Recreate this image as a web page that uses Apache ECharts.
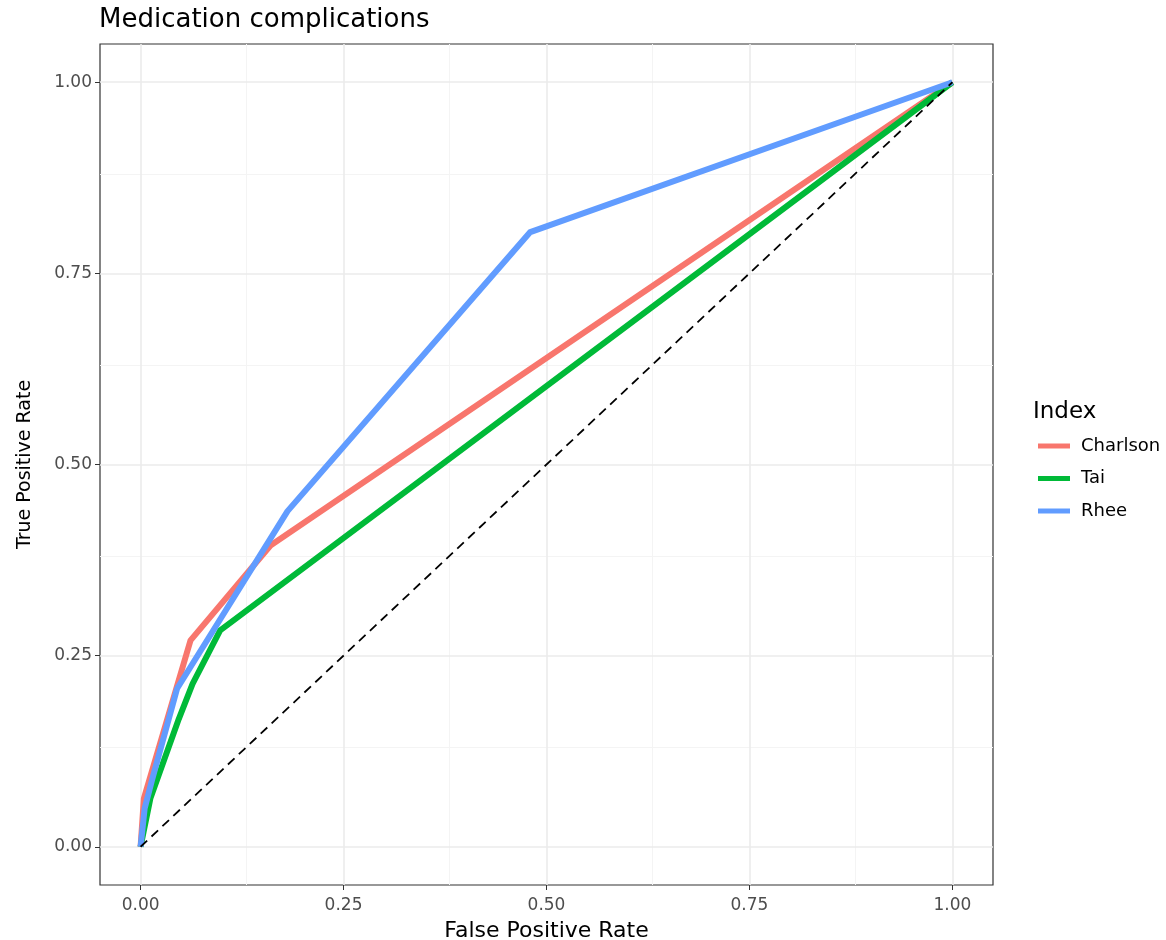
<!DOCTYPE html>
<html>
<head>
<meta charset="utf-8">
<script src="https://cdn.jsdelivr.net/npm/echarts@6/dist/echarts.min.js"></script>
<style>
  html, body { margin: 0; padding: 0; background: #fff; }
  #chart { width: 1166px; height: 940px; }
</style>
</head>
<body>
<div id="chart"></div>
<script>
// ROC points: [false positive rate, true positive rate]
const charlson = [[0, 0], [0.004, 0.063], [0.0615, 0.27], [0.16, 0.394], [1, 1]];
const tai = [[0, 0], [0.012, 0.063], [0.047, 0.167], [0.064, 0.213], [0.098, 0.283], [1, 1]];
const rhee = [[0, 0], [0.005, 0.05], [0.014, 0.087], [0.045, 0.207], [0.181, 0.439], [0.48, 0.804], [1, 1]];
const diagonal = [[0, 0], [1, 1]];

const seriesNames = ['Charlson', 'Tai', 'Rhee'];
const majorTicks = [0, 0.25, 0.5, 0.75, 1];
const minorTicks = [0.125, 0.375, 0.625, 0.875];

const chart = echarts.init(document.getElementById('chart'));
const font = 'DejaVu Sans, Liberation Sans, sans-serif';

// background grid, drawn as mark lines under the curves
const gridLines = [];
minorTicks.forEach(v => {
  gridLines.push({ xAxis: v, lineStyle: { color: '#f4f4f4', width: 1, type: 'solid' } });
  gridLines.push({ yAxis: v, lineStyle: { color: '#f4f4f4', width: 1, type: 'solid' } });
});
majorTicks.forEach(v => {
  gridLines.push({ xAxis: v, lineStyle: { color: '#ebebeb', width: 1.6, type: 'solid' } });
  gridLines.push({ yAxis: v, lineStyle: { color: '#ebebeb', width: 1.6, type: 'solid' } });
});

const axisCommon = {
  type: 'value',
  min: -0.05,
  max: 1.05,
  splitLine: { show: false },
  axisLine: { show: false, onZero: false },
  axisTick: {
    show: true,
    customValues: majorTicks,
    length: 5,
    lineStyle: { color: '#333', width: 1 }
  },
  axisLabel: {
    customValues: majorTicks,
    formatter: v => v.toFixed(2),
    color: '#4d4d4d',
    fontSize: 17,
    fontFamily: font
  },
  nameLocation: 'middle',
  nameTextStyle: { color: '#000', fontSize: 22, fontFamily: font }
};

const option = {
  animation: false,
  backgroundColor: '#fff',
  title: {
    text: 'Medication complications',
    left: 94,
    top: 2,
    textStyle: { color: '#000', fontSize: 26, fontWeight: 'normal', fontFamily: font }
  },
  graphic: [{
    type: 'text',
    left: 1033,
    top: 401,
    style: { text: 'Index', fill: '#000', fontSize: 23, fontFamily: font }
  }],
  legend: {
    orient: 'vertical',
    left: 1033,
    top: 432,
    itemWidth: 32,
    itemHeight: 5,
    itemGap: 14.5,
    icon: 'rect',
    data: seriesNames,
    textStyle: { color: '#000', fontSize: 18, lineHeight: 18, fontFamily: font, padding: [0, 0, 0, 6] }
  },
  grid: {
    left: 100,
    right: 173,
    top: 44,
    bottom: 55,
    outerBoundsMode: 'none',
    containLabel: false,
    show: true,
    borderColor: '#333',
    borderWidth: 1.2,
    backgroundColor: 'transparent'
  },
  xAxis: Object.assign({}, axisCommon, {
    name: 'False Positive Rate',
    nameGap: 35,
    axisLabel: Object.assign({}, axisCommon.axisLabel, { margin: 12 })
  }),
  yAxis: Object.assign({}, axisCommon, {
    name: 'True Positive Rate',
    nameGap: 65,
    nameTextStyle: { color: '#000', fontSize: 19, fontFamily: font },
    axisLabel: Object.assign({}, axisCommon.axisLabel, { margin: 8 })
  }),
  series: [
    {
      name: 'grid',
      type: 'line',
      data: [],
      silent: true,
      z: 0,
      markLine: {
        silent: true,
        z: 0,
        symbol: 'none',
        label: { show: false },
        animation: false,
        data: gridLines
      }
    },
    {
      name: 'Charlson',
      type: 'line',
      data: charlson,
      showSymbol: false,
      z: 3,
      color: '#F8766D',
      lineStyle: { width: 6, join: 'round' }
    },
    {
      name: 'Tai',
      type: 'line',
      data: tai,
      showSymbol: false,
      z: 3,
      color: '#00BA38',
      lineStyle: { width: 6, join: 'round' }
    },
    {
      name: 'Rhee',
      type: 'line',
      data: rhee,
      showSymbol: false,
      z: 3,
      color: '#619CFF',
      lineStyle: { width: 6, join: 'round' }
    },
    {
      name: 'diagonal',
      type: 'line',
      data: diagonal,
      showSymbol: false,
      z: 4,
      color: '#000',
      lineStyle: { width: 1.8, type: [9, 6] }
    }
  ]
};

chart.setOption(option);
</script>
</body>
</html>
